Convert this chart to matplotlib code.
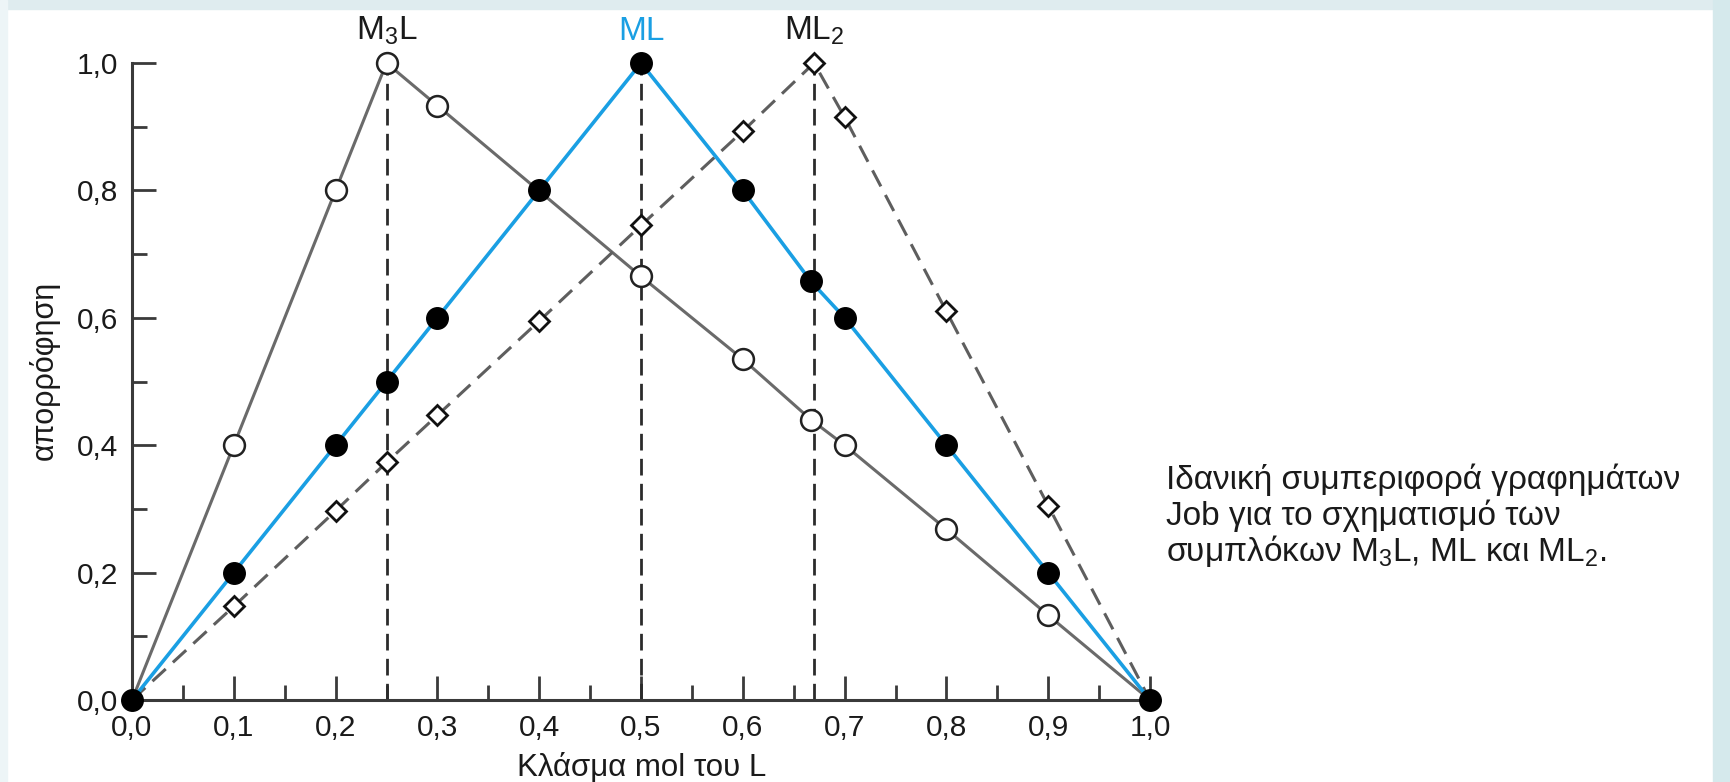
import matplotlib
matplotlib.use("Agg")
import matplotlib.pyplot as plt
from matplotlib.ticker import FixedLocator, FixedFormatter
from matplotlib.patches import Rectangle

plt.rcParams['font.family'] = ['Liberation Sans', 'DejaVu Sans']
plt.rcParams['mathtext.fontset'] = 'custom'
plt.rcParams['mathtext.rm'] = 'Liberation Sans'
plt.rcParams['mathtext.it'] = 'Liberation Sans'
plt.rcParams['lines.scale_dashes'] = False

# ---- data ----
m3l_x = [0.0, 0.1, 0.2, 0.25, 0.3, 0.5, 0.6, 0.667, 0.7, 0.8, 0.9, 1.0]
m3l_y = [0.0, 0.40, 0.80, 1.00, 0.933, 0.665, 0.535, 0.44, 0.40, 0.268, 0.133, 0.0]

ml_x = [0.0, 0.1, 0.2, 0.25, 0.3, 0.4, 0.5, 0.6, 0.667, 0.7, 0.8, 0.9, 1.0]
ml_y = [0.0, 0.20, 0.40, 0.50, 0.60, 0.80, 1.00, 0.80, 0.657, 0.60, 0.40, 0.20, 0.0]

ml2_x = [0.0, 0.1, 0.2, 0.25, 0.3, 0.4, 0.5, 0.6, 0.67, 0.7, 0.8, 0.9, 1.0]
ml2_y = [0.0, 0.147, 0.297, 0.373, 0.447, 0.595, 0.745, 0.893, 1.00, 0.915, 0.61, 0.305, 0.0]

peak_x = [0.25, 0.5, 0.67]
peak_labels = [r"M$_\mathregular{3}$L", "ML", r"ML$_\mathregular{2}$"]
peak_colors = ["#1a1a1a", "#1a9fe3", "#1a1a1a"]

x_major = [0.0, 0.1, 0.2, 0.3, 0.4, 0.5, 0.6, 0.7, 0.8, 0.9, 1.0]
x_labels = ["0,0", "0,1", "0,2", "0,3", "0,4", "0,5", "0,6", "0,7", "0,8", "0,9", "1,0"]
y_major = [0.0, 0.2, 0.4, 0.6, 0.8, 1.0]
y_labels = ["0,0", "0,2", "0,4", "0,6", "0,8", "1,0"]

xlabel = "Κλάσμα mol του L"
ylabel = "απορρόφηση"
caption = ["Ιδανική συμπεριφορά γραφημάτων",
           "Job για το σχηματισμό των",
           r"συμπλόκων M$_\mathregular{3}$L, ML και ML$_\mathregular{2}$."]

W, H = 1730, 782
fig = plt.figure(figsize=(W / 100, H / 100), dpi=100)
fig.patch.set_facecolor("white")

# light frame bands
fig.patches.append(Rectangle((0, 1 - 9 / H), 1, 9 / H, transform=fig.transFigure,
                             color="#dfecef", zorder=0))
fig.patches.append(Rectangle((0, 0), 7 / W, 1, transform=fig.transFigure,
                             color="#edf5f7", zorder=0))
fig.patches.append(Rectangle((1 - 17 / W, 0), 17 / W, 1, transform=fig.transFigure,
                             color="#d5e9ec", zorder=0))

x0, x1 = 132, 1150
y0, y1 = 700, 63
ax = fig.add_axes([x0 / W, (H - y0) / H, (x1 - x0) / W, (y0 - y1) / H])
ax.set_facecolor("none")
ax.set_xlim(0, 1)
ax.set_ylim(0, 1)

spine_c = "#3a3a3a"
for s in ["top", "right"]:
    ax.spines[s].set_visible(False)
for s in ["left", "bottom"]:
    ax.spines[s].set_linewidth(2.2)
    ax.spines[s].set_color(spine_c)

# vertical dashed lines at stoichiometric points
for px in peak_x:
    ax.plot([px, px], [0, 1], color="#2b2b2b", lw=2.0, dashes=(12, 6), zorder=2)

gray = "#6a6a6a"
# M3L
ax.plot(m3l_x, m3l_y, color=gray, lw=2.2, zorder=3)
ax.plot(m3l_x[1:-1], m3l_y[1:-1], ls="none", marker="o", ms=15, mfc="white",
        mec="#222222", mew=1.8, zorder=5, clip_on=False)
# ML2
ax.plot(ml2_x, ml2_y, color="#5e5e5e", lw=2.2, dashes=(13, 7), zorder=3)
ax.plot(ml2_x[1:-1], ml2_y[1:-1], ls="none", marker="D", ms=10.5, mfc="white",
        mec="#111111", mew=2.0, zorder=5, clip_on=False)
# ML
ax.plot(ml_x, ml_y, color="#1a9fe3", lw=2.6, zorder=4)
ax.plot(ml_x, ml_y, ls="none", marker="o", ms=15.5, mfc="black", mec="black",
        mew=1, zorder=6, clip_on=False)

# ticks
ax.xaxis.set_major_locator(FixedLocator(x_major))
ax.xaxis.set_major_formatter(FixedFormatter(x_labels))
ax.xaxis.set_minor_locator(FixedLocator([0.05, 0.15, 0.25, 0.35, 0.45, 0.55, 0.65, 0.75, 0.85, 0.95]))
ax.yaxis.set_major_locator(FixedLocator(y_major))
ax.yaxis.set_major_formatter(FixedFormatter(y_labels))
ax.yaxis.set_minor_locator(FixedLocator([0.1, 0.3, 0.5, 0.7, 0.9]))
ax.tick_params(which="major", direction="in", length=17, width=2.0, color=spine_c,
               labelsize=21.5, pad=10, labelcolor="#1a1a1a")
ax.tick_params(which="minor", direction="in", length=10.5, width=2.0, color=spine_c)

# peak labels
tr = ax.get_xaxis_transform()
for px, lab, c in zip(peak_x, peak_labels, peak_colors):
    ax.text(px, (y0 - 40) / (y0 - y1), lab, transform=tr, ha="center", va="baseline",
            fontsize=24, color=c)

fig.text(642 / W, (H - 776) / H, xlabel, ha="center", va="baseline", fontsize=22.5,
         color="#1a1a1a")
fig.text(44 / W, (H - 370) / H, ylabel, ha="center", va="center", rotation=90,
         fontsize=22, color="#1a1a1a")

for i, line in enumerate(caption):
    fig.text(1166 / W, (H - (489 + 36 * i)) / H, line, ha="left", va="baseline",
             fontsize=24, color="#1a1a1a")

fig.savefig("out.png", dpi=100)
